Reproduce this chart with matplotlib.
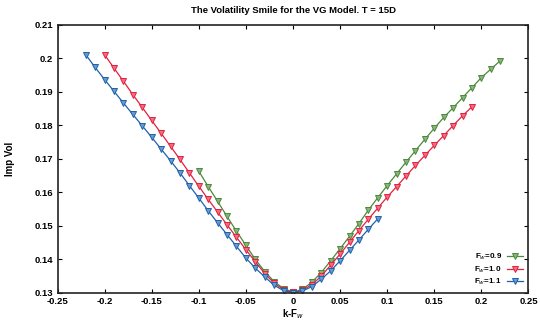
import matplotlib
matplotlib.use("Agg")
import matplotlib.pyplot as plt
from matplotlib.colors import to_rgb

plt.rcParams['font.family'] = ['Liberation Sans', 'DejaVu Sans']

title = "The Volatility Smile for the VG Model. T = 15D"
xlabel = "k-F$_w$"
ylabel = "Imp Vol"
labels = ["F$_w$=0.9", "F$_w$=1.0", "F$_w$=1.1"]
colors = ["#4b8a3a", "#e3213f", "#1d62ae"]

k_green = [-0.10, -0.09, -0.08, -0.07, -0.06, -0.05, -0.04, -0.03, -0.02, -0.01, 0.00,
           0.01, 0.02, 0.03, 0.04, 0.05, 0.06, 0.07, 0.08, 0.09, 0.10, 0.11, 0.12,
           0.13, 0.14, 0.15, 0.16, 0.17, 0.18, 0.19, 0.20, 0.21, 0.22]
v_green = [0.1663, 0.1617, 0.1573, 0.1528, 0.1484, 0.1442, 0.1400, 0.1364, 0.1334, 0.1313, 0.1303,
           0.1311, 0.1332, 0.1361, 0.1396, 0.1432, 0.1469, 0.1507, 0.1547, 0.1584, 0.1620, 0.1655, 0.1690,
           0.1724, 0.1758, 0.1791, 0.1823, 0.1852, 0.1882, 0.1912, 0.1942, 0.1967, 0.1992]

k_red = [-0.20, -0.19, -0.18, -0.17, -0.16, -0.15, -0.14, -0.13, -0.12, -0.11, -0.10,
         -0.09, -0.08, -0.07, -0.06, -0.05, -0.04, -0.03, -0.02, -0.01, 0.00,
         0.01, 0.02, 0.03, 0.04, 0.05, 0.06, 0.07, 0.08, 0.09, 0.10,
         0.11, 0.12, 0.13, 0.14, 0.15, 0.16, 0.17, 0.18, 0.19]
v_red = [0.2010, 0.1970, 0.1931, 0.1891, 0.1853, 0.1814, 0.1776, 0.1737, 0.1698, 0.1658, 0.1618,
         0.1579, 0.1541, 0.1503, 0.1466, 0.1429, 0.1393, 0.1358, 0.1329, 0.1310, 0.1302,
         0.1308, 0.1325, 0.1350, 0.1383, 0.1416, 0.1451, 0.1486, 0.1520, 0.1553, 0.1586,
         0.1617, 0.1649, 0.1680, 0.1710, 0.1740, 0.1769, 0.1799, 0.1828, 0.1855]

k_blue = [-0.22, -0.21, -0.20, -0.19, -0.18, -0.17, -0.16, -0.15, -0.14, -0.13, -0.12,
          -0.11, -0.10, -0.09, -0.08, -0.07, -0.06, -0.05, -0.04, -0.03, -0.02, -0.01, 0.00,
          0.01, 0.02, 0.03, 0.04, 0.05, 0.06, 0.07, 0.08, 0.09]
v_blue = [0.2010, 0.1972, 0.1936, 0.1901, 0.1866, 0.1832, 0.1798, 0.1764, 0.1729, 0.1694, 0.1658,
          0.1620, 0.1583, 0.1545, 0.1509, 0.1474, 0.1439, 0.1404, 0.1374, 0.1348, 0.1323, 0.1307, 0.1301,
          0.1306, 0.1319, 0.1341, 0.1366, 0.1396, 0.1427, 0.1458, 0.1490, 0.1521]

series = [(k_green, v_green), (k_red, v_red), (k_blue, v_blue)]

xticks = [-0.25, -0.2, -0.15, -0.1, -0.05, 0, 0.05, 0.1, 0.15, 0.2, 0.25]
xticklabels = ["-0.25", "-0.2", "-0.15", "-0.1", "-0.05", "0", "0.05", "0.1", "0.15", "0.2", "0.25"]
yticks = [0.13, 0.14, 0.15, 0.16, 0.17, 0.18, 0.19, 0.20, 0.21]
yticklabels = ["0.13", "0.14", "0.15", "0.16", "0.17", "0.18", "0.19", "0.2", "0.21"]


def tint(c, f=0.35):
    r, g, b = to_rgb(c)
    return (r + (1 - r) * f, g + (1 - g) * f, b + (1 - b) * f)


fig = plt.figure(figsize=(5.4, 3.22), dpi=100)
ax = fig.add_axes([0.1065, 0.0901, 0.8722, 0.8338])

for (kk, vv), c, lab in zip(series, colors, labels):
    ax.plot(kk, vv, color=c, lw=0.9, marker='v', markersize=4.6,
            markerfacecolor=tint(c), markeredgecolor=c, markeredgewidth=0.7,
            label=lab)

ax.set_xlim(-0.25, 0.25)
ax.set_ylim(0.13, 0.21)
ax.set_xticks(xticks)
ax.set_xticklabels(xticklabels)
ax.set_yticks(yticks)
ax.set_yticklabels(yticklabels)
ax.tick_params(direction='in', length=3, width=0.8, top=True, right=True,
               labelsize=6.8, pad=3)
for lab in ax.get_xticklabels() + ax.get_yticklabels():
    lab.set_fontweight('bold')
for sp in ax.spines.values():
    sp.set_linewidth(1.2)
    sp.set_color('#222222')

ax.set_title(title, fontsize=6.8, fontweight='bold', pad=8)
ax.set_xlabel(xlabel, fontsize=7, fontweight='bold', labelpad=1)
ax.set_ylabel(ylabel, fontsize=7, fontweight='bold', labelpad=14)

leg = ax.legend(loc='lower right', frameon=False, markerfirst=False,
                prop={'size': 5.8, 'weight': 'bold'}, handlelength=2.0,
                handletextpad=0.6, labelspacing=0.25, borderaxespad=0.3)

fig.savefig("out.png", dpi=100)
